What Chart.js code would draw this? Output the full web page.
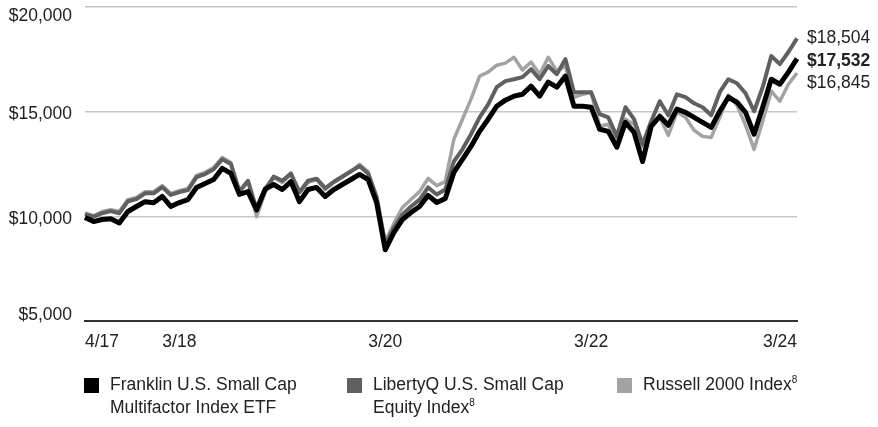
<!DOCTYPE html>
<html>
<head>
<meta charset="utf-8">
<script src="https://cdn.jsdelivr.net/npm/chart.js@4.4.1/dist/chart.umd.min.js"></script>
<style>
  html, body { margin: 0; padding: 0; background: #fff; }
  #wrap { position: relative; width: 878px; height: 427px; font-family: 'Liberation Sans', Arial, sans-serif; color: #222; }
  #growthChart { position: absolute; left: 0; top: 0; }
  .legend-item { position: absolute; top: 373px; font-size: 17.5px; line-height: 23px; white-space: nowrap; }
  .legend-item .box { position: absolute; left: 0; top: 5px; width: 15px; height: 15px; }
  .legend-item .txt { margin-left: 26px; }
  .legend-item sup { font-size: 10px; vertical-align: 7px; line-height: 0; }
</style>
</head>
<body>
<div id="wrap">
  <canvas id="growthChart" width="878" height="427"></canvas>
  <div id="legend"></div>
</div>
<script>
// month ends, 4/17 .. 3/24
const months = [
  '4/17','5/17','6/17','7/17','8/17','9/17','10/17','11/17','12/17',
  '1/18','2/18','3/18','4/18','5/18','6/18','7/18','8/18','9/18','10/18','11/18','12/18',
  '1/19','2/19','3/19','4/19','5/19','6/19','7/19','8/19','9/19','10/19','11/19','12/19',
  '1/20','2/20','3/20','4/20','5/20','6/20','7/20','8/20','9/20','10/20','11/20','12/20',
  '1/21','2/21','3/21','4/21','5/21','6/21','7/21','8/21','9/21','10/21','11/21','12/21',
  '1/22','2/22','3/22','4/22','5/22','6/22','7/22','8/22','9/22','10/22','11/22','12/22',
  '1/23','2/23','3/23','4/23','5/23','6/23','7/23','8/23','9/23','10/23','11/23','12/23',
  '1/24','2/24','3/24'
];
const shownTicks = ['4/17', '3/18', '3/20', '3/22', '3/24'];

const fundValues = [
  9950, 9750, 9850, 9880, 9680, 10230, 10470, 10700, 10650,
  10950, 10470, 10660, 10800, 11380, 11570, 11760, 12290, 12050, 11050, 11180, 10300,
  11300, 11520, 11280, 11660, 10700, 11280, 11380, 10950, 11280, 11520, 11760, 12000,
  11760, 10650, 8400, 9220, 9840, 10180, 10470, 11000, 10660, 10850, 12100, 12720,
  13340, 14060, 14640, 15260, 15550, 15740, 15830, 16220, 15740, 16410, 16170, 16700,
  15260, 15260, 15210, 14160, 14060, 13300, 14490, 14010, 12620, 14300, 14780, 14350,
  15120, 14970, 14730, 14490, 14250, 15020, 15690, 15450, 14970, 13920, 15210, 16550,
  16310, 16890, 17532
];
const libertyValues = [
  10100, 9980, 10150, 10250, 10150, 10720, 10820, 11100, 11100,
  11400, 11020, 11160, 11250, 11870, 12020, 12250, 12730, 12500, 11200, 11700, 10350,
  11300, 11900, 11700, 12050, 11150, 11700, 11800, 11350, 11650, 11900, 12150, 12400,
  12050, 10900, 8650, 9450, 10080, 10470, 10800, 11380, 11040, 11280, 12620, 13200,
  13920, 14730, 15350, 16170, 16460, 16550, 16650, 17030, 16550, 17180, 16790, 17510,
  15930, 15930, 15930, 14880, 14730, 13820, 15210, 14640, 13440, 14540, 15500, 14830,
  15830, 15690, 15400, 15210, 14830, 15930, 16550, 16360, 15880, 15020, 16170, 17660,
  17270, 17850, 18504
];
const russellValues = [
  10150, 10030, 10230, 10320, 10230, 10800, 10900, 11180, 11180,
  11470, 11090, 11230, 11330, 11950, 12100, 12330, 12810, 12570, 11140, 11660, 9990,
  11140, 11860, 11620, 12000, 11140, 11620, 11760, 11280, 11620, 11860, 12140, 12480,
  12140, 10950, 8800, 9650, 10420, 10800, 11180, 11810, 11470, 11660, 13680, 14640,
  15600, 16700, 16890, 17220, 17320, 17600, 16990, 17370, 16790, 17600, 16940, 17180,
  15690, 15830, 15930, 14300, 14400, 13530, 14640, 14400, 13300, 14400, 14730, 13870,
  14970, 14730, 14110, 13820, 13770, 14730, 15790, 15310, 14350, 13200, 14540, 15980,
  15500, 16310, 16845
];

const seriesNames = ['Franklin U.S. Small Cap\nMultifactor Index ETF', 'LibertyQ U.S. Small Cap\nEquity Index', 'Russell 2000 Index'];
const seriesNotes = ['', '8', '8'];
const seriesColors = ['#000000', '#606060', '#a3a3a3'];
const seriesWidths = [5, 4, 3.5];
const legendLeft = [84, 347, 617];

const FONT = '"Liberation Sans", Arial, sans-serif';
const money = v => '$' + Math.round(v).toLocaleString('en-US');

// y labels are clamped inside the plot like the original, end values stacked at the right
const labelsPlugin = {
  id: 'labelsPlugin',
  afterDraw(chart) {
    const ctx = chart.ctx;
    const area = chart.chartArea;
    const y = chart.scales.y;
    ctx.save();
    ctx.fillStyle = '#222';
    ctx.textBaseline = 'middle';
    ctx.font = '17.5px ' + FONT;
    ctx.textAlign = 'right';
    y.ticks.forEach(t => {
      let py = y.getPixelForValue(t.value) + 3;
      py = Math.min(Math.max(py, area.top + 9), area.bottom - 6);
      ctx.fillText(money(t.value), 72, py);
    });

    const ends = chart.data.datasets.map((ds, i) => ({ i: i, v: ds.data[ds.data.length - 1] }));
    ends.sort((a, b) => b.v - a.v);
    let last = -Infinity;
    ctx.textAlign = 'left';
    ends.forEach(e => {
      let py = Math.max(y.getPixelForValue(e.v), last + 22.5);
      last = py;
      ctx.font = (e.i === 0 ? 'bold ' : '') + '17.5px ' + FONT;
      ctx.fillText(money(e.v), area.right + 10, py);
    });
    ctx.restore();
  }
};

function buildLegend() {
  const el = document.getElementById('legend');
  seriesNames.forEach((name, i) => {
    const item = document.createElement('div');
    item.className = 'legend-item';
    item.style.left = legendLeft[i] + 'px';
    const note = seriesNotes[i] ? '<sup>' + seriesNotes[i] + '</sup>' : '';
    item.innerHTML = '<span class="box" style="background:' + seriesColors[i] + '"></span>' +
      '<div class="txt">' + name.replace('\n', '<br>') + note + '</div>';
    el.appendChild(item);
  });
}

function renderChart() {
  const ctx = document.getElementById('growthChart').getContext('2d');
  const allValues = [fundValues, libertyValues, russellValues];
  new Chart(ctx, {
    type: 'line',
    data: {
      labels: months,
      datasets: allValues.map((vals, i) => ({
        label: seriesNames[i].replace('\n', ' '),
        data: vals,
        borderColor: seriesColors[i],
        borderWidth: seriesWidths[i],
        pointRadius: 0,
        tension: 0,
        borderJoinStyle: 'round',
        fill: false
      }))
    },
    options: {
      responsive: false,
      animation: false,
      layout: { padding: { top: 7, right: 81, left: 0, bottom: 0 } },
      plugins: { legend: { display: false }, tooltip: { enabled: false } },
      scales: {
        x: {
          grid: { display: false, drawTicks: false },
          border: { display: true, color: '#333', width: 2 },
          ticks: {
            autoSkip: false,
            maxRotation: 0,
            minRotation: 0,
            align: 'inner',
            padding: 11,
            color: '#222',
            font: { family: FONT, size: 17.5 },
            callback: (val, idx) => shownTicks.includes(months[idx]) ? months[idx] : ''
          },
          afterFit: scale => { scale.height = 106; }
        },
        y: {
          min: 5000,
          max: 20000,
          grid: { color: '#c6c6c6', lineWidth: 1.5, drawTicks: false },
          border: { display: false },
          ticks: { stepSize: 5000, display: false },
          afterFit: scale => { scale.width = 85; scale.paddingTop = 0; scale.paddingBottom = 0; }
        }
      }
    },
    plugins: [labelsPlugin]
  });
}

window.onload = function() {
  buildLegend();
  renderChart();
};
</script>
</body>
</html>
